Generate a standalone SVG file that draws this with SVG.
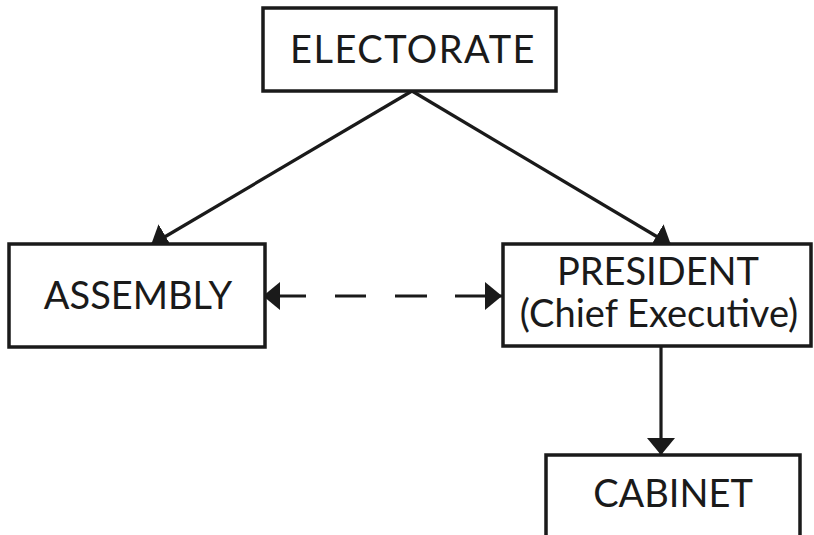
<svg xmlns="http://www.w3.org/2000/svg" width="814" height="535" viewBox="0 0 814 535">
<style>
.box{fill:#fff;stroke:#1a1a1a;stroke-width:3.5}
.t{font-family:Lato,"Open Sans",sans-serif;font-size:38px;fill:#1a1a1a;text-anchor:middle}
.c{stroke:#1a1a1a;stroke-width:3.2;fill:none}
</style>
<defs>
<marker id="ah" viewBox="0 0 17 28" refX="17" refY="14" markerWidth="17" markerHeight="28" markerUnits="userSpaceOnUse" orient="auto-start-reverse">
<path d="M0,0 L17,14 L0,28 Z" fill="#1a1a1a"/>
</marker>
</defs>
<rect width="814" height="535" fill="#fff"/>
<g id="connectors">
<line class="c" x1="412" y1="91" x2="151" y2="245" marker-end="url(#ah)"/>
<line class="c" x1="412" y1="91" x2="671" y2="245" marker-end="url(#ah)"/>
<line class="c" x1="263" y1="296" x2="502" y2="296" stroke-dasharray="43 29 31 29 32 28 60" marker-start="url(#ah)" marker-end="url(#ah)"/>
<line class="c" x1="661" y1="347" x2="661" y2="455" marker-end="url(#ah)"/>
</g>
<g id="electorate">
<rect class="box" x="263" y="8" width="293" height="83"/>
<text class="t" x="413" y="63" letter-spacing="1.5">ELECTORATE</text>
</g>
<g id="assembly">
<rect class="box" x="9" y="244" width="256" height="103"/>
<text class="t" x="138" y="309">ASSEMBLY</text>
</g>
<g id="president">
<rect class="box" x="503" y="244" width="308" height="102"/>
<text class="t" x="658" y="285">PRESIDENT</text>
<text class="t" x="659" y="327">(Chief Executive)</text>
</g>
<g id="cabinet">
<path class="box" d="M546,537 V455 H800 V537"/>
<text class="t" x="673" y="507">CABINET</text>
</g>
</svg>
